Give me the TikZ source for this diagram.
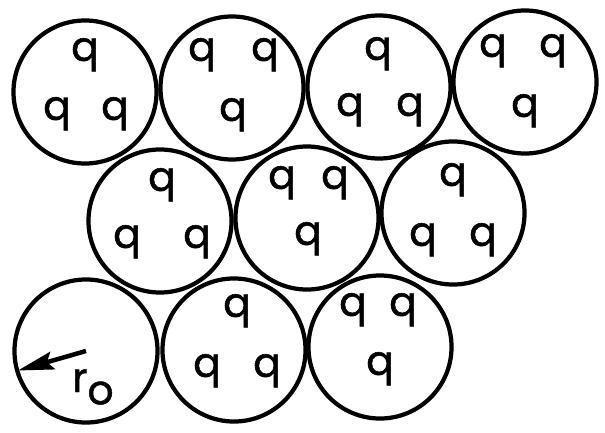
\documentclass[tikz,border=0pt]{standalone}
\usepackage{fontspec}
\setmainfont{Poppins}[FakeBold=1.2]
\usetikzlibrary{positioning, arrows.meta}

\begin{document}
\begin{tikzpicture}[
  x=0.025cm, y=-0.025cm,
  cell/.style={draw, circle, line width=3pt, minimum size=3.575cm, inner sep=0pt},
  charge/.style={font=\fontsize{29}{31}\selectfont, anchor=mid, inner sep=0pt},
  radlabel/.style={font=\fontsize{29}{31}\selectfont, anchor=base west, inner sep=0pt},
]
\useasboundingbox (0,0) rectangle (605,433);

% Top row
\node[cell] (c1) at (85,92) {};
\node[cell] (c2) at (232,88) {};
\node[cell] (c3) at (379,87) {};
\node[cell] (c4) at (525,82) {};

% Middle row
\node[cell] (c5) at (160,221) {};
\node[cell] (c6) at (307,218) {};
\node[cell] (c7) at (453,213) {};

% Bottom row
\node[cell] (c8) at (86,351) {};
\node[cell] (c9) at (234,350) {};
\node[cell] (c10) at (380,347) {};

% Charges
\node[charge] (q11) at (85,57) {q};
\node[charge] (q12) at (57,116) {q};
\node[charge] (q13) at (115,116) {q};

\node[charge] (q21) at (202,57) {q};
\node[charge] (q22) at (265,57) {q};
\node[charge] (q23) at (233,117) {q};

\node[charge] (q31) at (378,56) {q};
\node[charge] (q32) at (350,112) {q};
\node[charge] (q33) at (410,112) {q};

\node[charge] (q41) at (493,53) {q};
\node[charge] (q42) at (553,53) {q};
\node[charge] (q43) at (525,113) {q};

\node[charge] (q51) at (162,187) {q};
\node[charge] (q52) at (127,244) {q};
\node[charge] (q53) at (197,244) {q};

\node[charge] (q61) at (282,185) {q};
\node[charge] (q62) at (335,185) {q};
\node[charge] (q63) at (308,241) {q};

\node[charge] (q71) at (453,182) {q};
\node[charge] (q72) at (423,242) {q};
\node[charge] (q73) at (483,242) {q};

\node[charge] (q91) at (237,313) {q};
\node[charge] (q92) at (207,373) {q};
\node[charge] (q93) at (267,373) {q};

\node[charge] (q101) at (353,312) {q};
\node[charge] (q102) at (403,312) {q};
\node[charge] (q103) at (380,371) {q};

% Radius
\draw[line width=3.2pt, -{Stealth[length=9mm, width=4.5mm, inset=1.5mm]}, shorten >=2pt] (c8.center) -- (c8.196);
\node[radlabel] (r0) at (72,392) {r\raisebox{-0.3em}{o}};
\end{tikzpicture}
\end{document}
